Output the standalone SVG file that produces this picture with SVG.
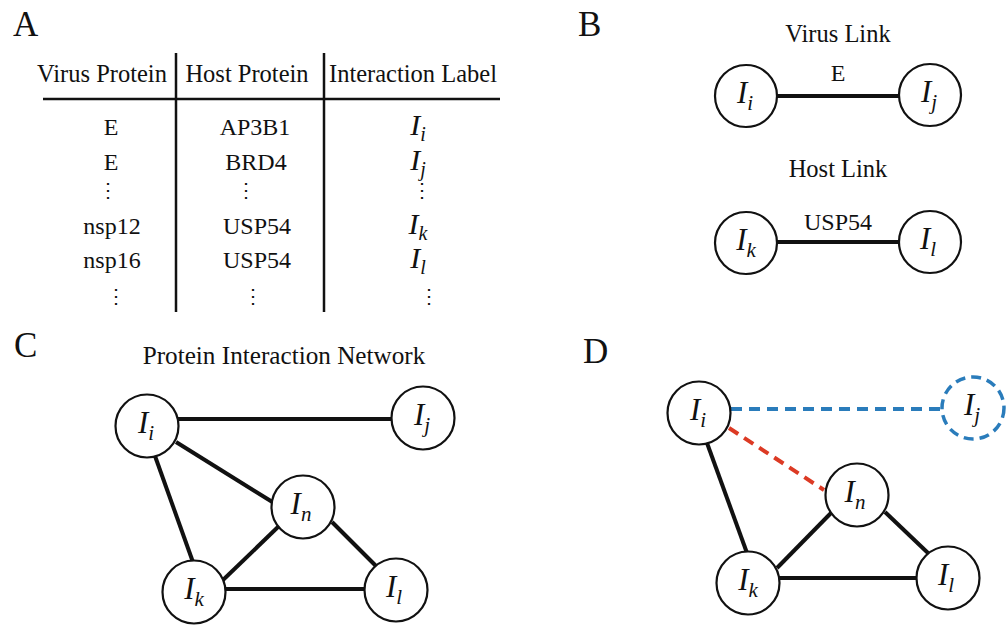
<svg xmlns="http://www.w3.org/2000/svg" width="1008" height="627" viewBox="0 0 1008 627">
  <style>
    text { font-family: "Liberation Serif", "Times New Roman", serif; fill: #111; }
    .panel { font-size: 35px; }
    .hdr { font-size: 24.5px; text-anchor: middle; }
    .title { font-size: 25.2px; text-anchor: middle; }
    .cell { font-size: 24px; text-anchor: middle; }
    .lab { font-size: 30px; font-style: italic; text-anchor: middle; }
    .nlab { font-size: 31px; font-style: italic; text-anchor: middle; }
    .sub { font-size: 20px; }
    .nsub { font-size: 21px; }
    .dots { font-family: "DejaVu Serif", serif; font-size: 20px; text-anchor: middle; }
    .rule { stroke: #111; stroke-width: 2.5; fill: none; }
    .node { fill: #fff; stroke: #111; stroke-width: 2.2; }
    .edge { stroke: #111; stroke-width: 4; fill: none; }
    .blue { stroke: #2a7cbb; stroke-width: 4; stroke-dasharray: 11 7; fill: none; }
    .red { stroke: #dc3a24; stroke-width: 4; stroke-dasharray: 11 7; fill: none; }
    .bnode { fill: #fff; stroke: #2a7cbb; stroke-width: 3.5; stroke-dasharray: 10 6; }
  </style>

  <rect width="1008" height="627" fill="#fff"/>

  <!-- Panel letters -->
  <text class="panel" x="13" y="36">A</text>
  <text class="panel" x="578" y="36">B</text>
  <text class="panel" x="14" y="357">C</text>
  <text class="panel" x="583" y="363">D</text>

  <!-- Panel A: interaction table -->
  <g id="table">
    <line class="rule" x1="43" y1="99" x2="500" y2="99"/>
    <line class="rule" x1="176" y1="53" x2="176" y2="312"/>
    <line class="rule" x1="324" y1="53" x2="324" y2="312"/>
    <text class="hdr" x="102" y="82">Virus Protein</text>
    <text class="hdr" x="247" y="82">Host Protein</text>
    <text class="hdr" x="413" y="82">Interaction Label</text>

    <text class="cell" x="111" y="135">E</text>
    <text class="cell" x="255" y="135">AP3B1</text>
    <text class="lab" x="418" y="135">I<tspan class="sub" dy="6">i</tspan></text>

    <text class="cell" x="111" y="170">E</text>
    <text class="cell" x="256" y="170">BRD4</text>
    <text class="lab" x="418" y="170">I<tspan class="sub" dy="6">j</tspan></text>

    <text class="dots" x="108" y="197">⋮</text>
    <text class="dots" x="246" y="197">⋮</text>
    <text class="dots" x="422" y="197">⋮</text>

    <text class="cell" x="112" y="234">nsp12</text>
    <text class="cell" x="257" y="234">USP54</text>
    <text class="lab" x="418" y="234">I<tspan class="sub" dy="6">k</tspan></text>

    <text class="cell" x="112" y="268">nsp16</text>
    <text class="cell" x="257" y="268">USP54</text>
    <text class="lab" x="418" y="268">I<tspan class="sub" dy="6">l</tspan></text>

    <text class="dots" x="116" y="303">⋮</text>
    <text class="dots" x="253" y="303">⋮</text>
    <text class="dots" x="429" y="303">⋮</text>
  </g>

  <!-- Panel B: link types -->
  <text class="hdr" x="838" y="42">Virus Link</text>
  <text class="hdr" x="838" y="177">Host Link</text>
  <g id="b-connectors">
    <line class="edge" x1="777" y1="96" x2="899" y2="96"/>
    <text class="cell" x="838" y="81">E</text>
    <line class="edge" x1="777" y1="242" x2="899" y2="242"/>
    <text class="cell" x="838" y="230">USP54</text>
  </g>
  <g id="b-Ii"><circle class="node" cx="746" cy="96" r="31"/><text class="nlab" x="745" y="103">I<tspan class="nsub" dy="7">i</tspan></text></g>
  <g id="b-Ij"><circle class="node" cx="930" cy="95" r="31"/><text class="nlab" x="929" y="102">I<tspan class="nsub" dy="7">j</tspan></text></g>
  <g id="b-Ik"><circle class="node" cx="746" cy="243" r="31"/><text class="nlab" x="746" y="250">I<tspan class="nsub" dy="7">k</tspan></text></g>
  <g id="b-Il"><circle class="node" cx="930" cy="242" r="31"/><text class="nlab" x="928" y="249">I<tspan class="nsub" dy="7">l</tspan></text></g>

  <!-- Panel C: protein interaction network -->
  <text class="title" x="284" y="364">Protein Interaction Network</text>
  <g id="c-connectors">
    <line class="edge" x1="178" y1="419" x2="392" y2="419"/>
    <line class="edge" x1="176" y1="442" x2="274" y2="503"/>
    <line class="edge" x1="155" y1="456" x2="194" y2="565"/>
    <line class="edge" x1="279" y1="526" x2="223" y2="580"/>
    <line class="edge" x1="332" y1="522" x2="377" y2="567"/>
    <line class="edge" x1="225" y1="589" x2="365" y2="589"/>
  </g>
  <g id="c-Ii"><circle class="node" cx="147" cy="426" r="31.5"/><text class="nlab" x="146" y="433">I<tspan class="nsub" dy="7">i</tspan></text></g>
  <g id="c-Ij"><circle class="node" cx="423" cy="418" r="31.5"/><text class="nlab" x="422" y="425">I<tspan class="nsub" dy="7">j</tspan></text></g>
  <g id="c-In"><circle class="node" cx="303" cy="507" r="31.5"/><text class="nlab" x="301" y="514">I<tspan class="nsub" dy="7">n</tspan></text></g>
  <g id="c-Ik"><circle class="node" cx="194" cy="592" r="31.5"/><text class="nlab" x="194" y="599">I<tspan class="nsub" dy="7">k</tspan></text></g>
  <g id="c-Il"><circle class="node" cx="396" cy="590" r="31.5"/><text class="nlab" x="394" y="597">I<tspan class="nsub" dy="7">l</tspan></text></g>

  <!-- Panel D: predicted links -->
  <g id="d-connectors">
    <line class="blue" x1="731" y1="409" x2="942" y2="409"/>
    <line class="red" x1="729" y1="428" x2="824" y2="490"/>
    <line class="edge" x1="707" y1="443" x2="747" y2="553"/>
    <line class="edge" x1="831" y1="513" x2="777" y2="568"/>
    <line class="edge" x1="885" y1="512" x2="928" y2="553"/>
    <line class="edge" x1="779" y1="578" x2="917" y2="578"/>
  </g>
  <g id="d-Ii"><circle class="node" cx="699" cy="413" r="31.5"/><text class="nlab" x="698" y="420">I<tspan class="nsub" dy="7">i</tspan></text></g>
  <g id="d-Ij"><circle class="bnode" cx="973" cy="408" r="31"/><text class="nlab" x="972" y="415">I<tspan class="nsub" dy="7">j</tspan></text></g>
  <g id="d-In"><circle class="node" cx="857" cy="495" r="31.5"/><text class="nlab" x="855" y="502">I<tspan class="nsub" dy="7">n</tspan></text></g>
  <g id="d-Ik"><circle class="node" cx="748" cy="583" r="31.5"/><text class="nlab" x="748" y="590">I<tspan class="nsub" dy="7">k</tspan></text></g>
  <g id="d-Il"><circle class="node" cx="948" cy="578" r="31.5"/><text class="nlab" x="946" y="585">I<tspan class="nsub" dy="7">l</tspan></text></g>
</svg>
